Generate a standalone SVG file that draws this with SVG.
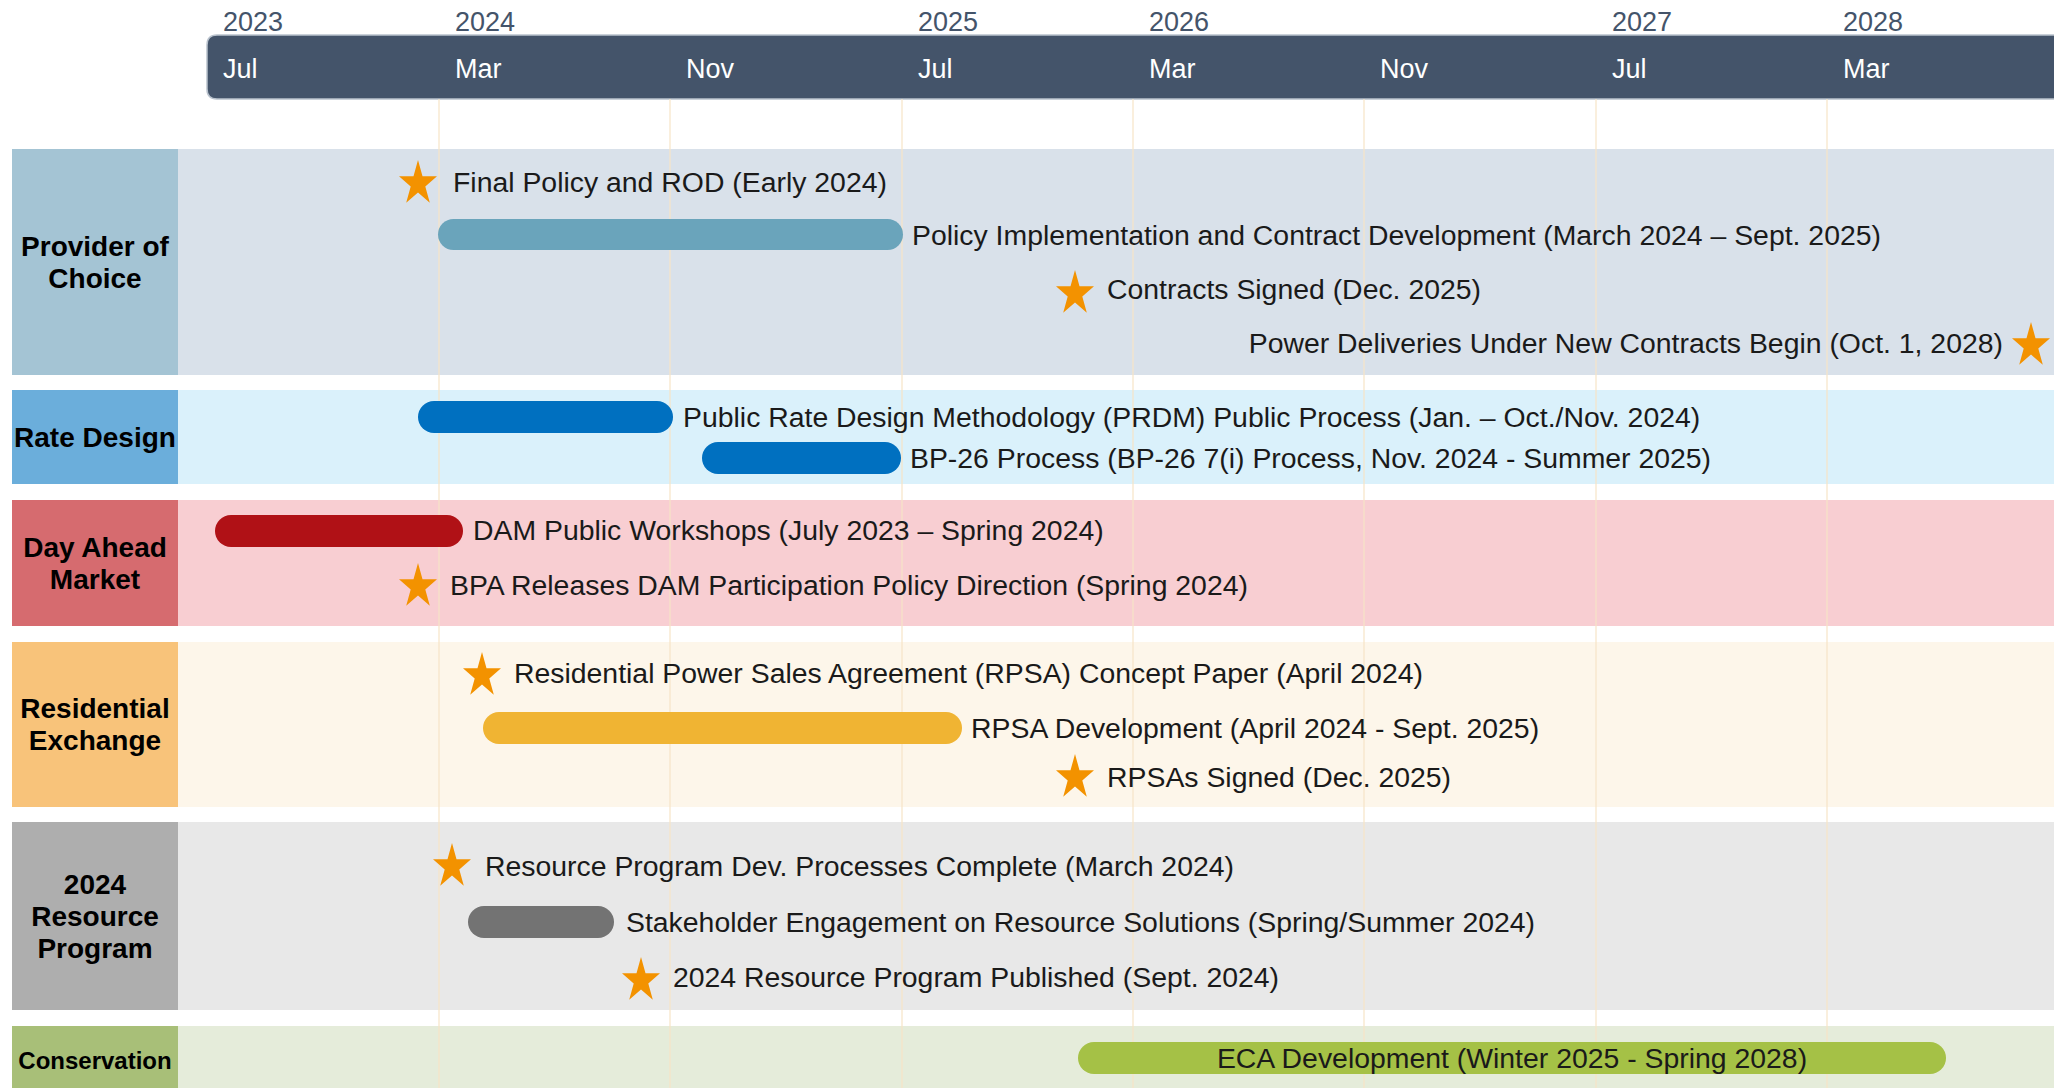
<svg xmlns="http://www.w3.org/2000/svg" width="2054" height="1088" viewBox="0 0 2054 1088">
<style>
.lbl{font-family:"Liberation Sans",Arial,sans-serif;font-weight:bold;font-size:28px;fill:#000;text-anchor:middle}
.txt{font-family:"Liberation Sans",Arial,sans-serif;font-size:28.4px;fill:#1a1a1a}
.yr{font-family:"Liberation Sans",Arial,sans-serif;font-size:27px;fill:#44546A}
.mo{font-family:"Liberation Sans",Arial,sans-serif;font-size:27px;fill:#FFFFFF}
.star{fill:#F39200}
.grid{stroke:#F7E4C6;stroke-width:1.2}
</style>
<defs>
<path id="star" d="M0,-23.6 L4.5,-7.3 L19,-7.3 L7.3,2.8 L11.8,19.1 L0,9 L-11.8,19.1 L-7.3,2.8 L-19,-7.3 L-4.5,-7.3 Z"/>
</defs>
<rect width="2054" height="1088" fill="#FFFFFF"/>

<g id="header">
<path d="M217,35 H2060 V99 H217 Q207,99 207,89 V45 Q207,35 217,35 Z" fill="#44546A" stroke="#B9C2CD" stroke-width="1.5"/>
<text class="yr" x="223" y="31">2023</text>
<text class="yr" x="455" y="31">2024</text>
<text class="yr" x="918" y="31">2025</text>
<text class="yr" x="1149" y="31">2026</text>
<text class="yr" x="1612" y="31">2027</text>
<text class="yr" x="1843" y="31">2028</text>
<text class="mo" x="223" y="78">Jul</text>
<text class="mo" x="455" y="78">Mar</text>
<text class="mo" x="686" y="78">Nov</text>
<text class="mo" x="918" y="78">Jul</text>
<text class="mo" x="1149" y="78">Mar</text>
<text class="mo" x="1380" y="78">Nov</text>
<text class="mo" x="1612" y="78">Jul</text>
<text class="mo" x="1843" y="78">Mar</text>
</g>

<g id="row-backgrounds">
<rect x="12" y="149" width="166" height="226" fill="#A4C4D4"/>
<rect x="178" y="149" width="1876" height="226" fill="#D9E1EA"/>
<rect x="12" y="390" width="166" height="94" fill="#6BAEDB"/>
<rect x="178" y="390" width="1876" height="94" fill="#DAF1FB"/>
<rect x="12" y="500" width="166" height="126" fill="#D66B6F"/>
<rect x="178" y="500" width="1876" height="126" fill="#F8CED2"/>
<rect x="12" y="642" width="166" height="165" fill="#F8C37A"/>
<rect x="178" y="642" width="1876" height="165" fill="#FDF6EA"/>
<rect x="12" y="822" width="166" height="188" fill="#AEAEAE"/>
<rect x="178" y="822" width="1876" height="188" fill="#E8E8E8"/>
<rect x="12" y="1026" width="166" height="62" fill="#A8BF78"/>
<rect x="178" y="1026" width="1876" height="62" fill="#E5ECDA"/>
</g>

<g id="gridlines">
<line class="grid" x1="439" y1="99" x2="439" y2="1088"/>
<line class="grid" x1="670" y1="99" x2="670" y2="1088"/>
<line class="grid" x1="902" y1="99" x2="902" y2="1088"/>
<line class="grid" x1="1133" y1="99" x2="1133" y2="1088"/>
<line class="grid" x1="1364" y1="99" x2="1364" y2="1088"/>
<line class="grid" x1="1596" y1="99" x2="1596" y2="1088"/>
<line class="grid" x1="1827" y1="99" x2="1827" y2="1088"/>
</g>

<g id="label-provider"><text class="lbl" x="95" y="256">Provider of</text><text class="lbl" x="95" y="288">Choice</text></g>
<g id="label-rate"><text class="lbl" x="95" y="447">Rate Design</text></g>
<g id="label-dam"><text class="lbl" x="95" y="557">Day Ahead</text><text class="lbl" x="95" y="589">Market</text></g>
<g id="label-rex"><text class="lbl" x="95" y="718">Residential</text><text class="lbl" x="95" y="750">Exchange</text></g>
<g id="label-rp"><text class="lbl" x="95" y="894">2024</text><text class="lbl" x="95" y="926">Resource</text><text class="lbl" x="95" y="958">Program</text></g>
<g id="label-cons"><text class="lbl" x="95" y="1069" style="font-size:24px">Conservation</text></g>

<g id="item-final-policy"><use href="#star" class="star" x="418" y="183.6"/><text class="txt" x="453" y="192">Final Policy and ROD (Early 2024)</text></g>
<g id="item-policy-impl"><rect x="438" y="219" width="465" height="31" rx="15.5" fill="#6AA4BB"/><text class="txt" x="912" y="245">Policy Implementation and Contract Development (March 2024 – Sept. 2025)</text></g>
<g id="item-contracts-signed"><use href="#star" class="star" x="1075" y="293.6"/><text class="txt" x="1107" y="299">Contracts Signed (Dec. 2025)</text></g>
<g id="item-power-deliveries"><text class="txt" x="2003" y="353" text-anchor="end">Power Deliveries Under New Contracts Begin (Oct. 1, 2028)</text><use href="#star" class="star" x="2031" y="345.6"/></g>

<g id="item-prdm"><rect x="418" y="401" width="255" height="32" rx="16" fill="#0070C0"/><text class="txt" x="683" y="427">Public Rate Design Methodology (PRDM) Public Process (Jan. – Oct./Nov. 2024)</text></g>
<g id="item-bp26"><rect x="702" y="442" width="199" height="32" rx="16" fill="#0070C0"/><text class="txt" x="910" y="468">BP-26 Process (BP-26 7(i) Process, Nov. 2024 - Summer 2025)</text></g>

<g id="item-dam-workshops"><rect x="215" y="515" width="248" height="32" rx="16" fill="#B01116"/><text class="txt" x="473" y="540">DAM Public Workshops (July 2023 – Spring 2024)</text></g>
<g id="item-dam-policy"><use href="#star" class="star" x="418" y="586.6"/><text class="txt" x="450" y="595">BPA Releases DAM Participation Policy Direction (Spring 2024)</text></g>

<g id="item-rpsa-paper"><use href="#star" class="star" x="482" y="675.6"/><text class="txt" x="514" y="683">Residential Power Sales Agreement (RPSA) Concept Paper (April 2024)</text></g>
<g id="item-rpsa-dev"><rect x="483" y="712" width="479" height="32" rx="16" fill="#F0B433"/><text class="txt" x="971" y="738">RPSA Development (April 2024 - Sept. 2025)</text></g>
<g id="item-rpsa-signed"><use href="#star" class="star" x="1075" y="777.6"/><text class="txt" x="1107" y="787">RPSAs Signed (Dec. 2025)</text></g>

<g id="item-rp-dev"><use href="#star" class="star" x="452" y="866.6"/><text class="txt" x="485" y="876">Resource Program Dev. Processes Complete (March 2024)</text></g>
<g id="item-stakeholder"><rect x="468" y="906" width="146" height="32" rx="16" fill="#737373"/><text class="txt" x="626" y="932">Stakeholder Engagement on Resource Solutions (Spring/Summer 2024)</text></g>
<g id="item-rp-published"><use href="#star" class="star" x="641" y="980.6"/><text class="txt" x="673" y="987">2024 Resource Program Published (Sept. 2024)</text></g>

<g id="item-eca"><rect x="1078" y="1042" width="868" height="32" rx="16" fill="#A5C146"/><text class="txt" x="1512" y="1068" text-anchor="middle">ECA Development (Winter 2025 - Spring 2028)</text></g>

<g id="connectors"/>
</svg>
